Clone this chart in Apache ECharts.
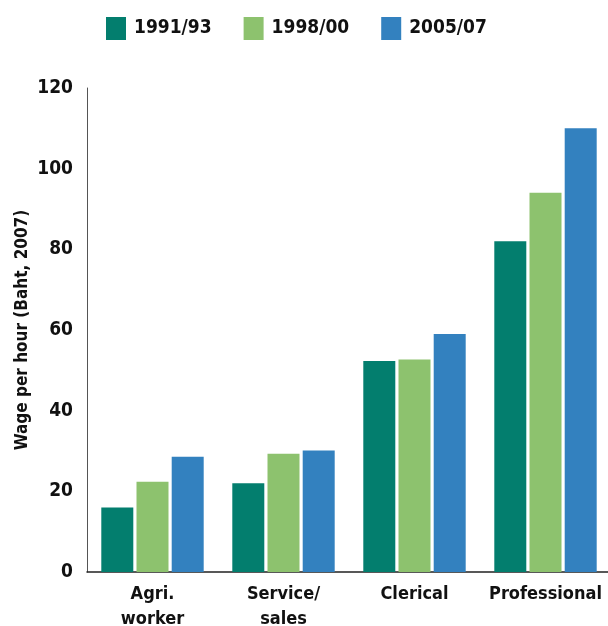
<!DOCTYPE html>
<html>
<head>
<meta charset="utf-8">
<script src="https://cdn.jsdelivr.net/npm/echarts@6/dist/echarts.min.js"></script>
<style>
  html, body { margin: 0; padding: 0; background: #fff; }
  #chart { width: 608px; height: 626px; }
</style>
</head>
<body>
<div id="chart"></div>
<script>
// occupations and wage values (Baht per hour, 2007 prices)
const categories = ["Agri.\nworker", "Service/\nsales", "Clerical", "Professional"];
const periods = ["1991/93", "1998/00", "2005/07"];
const wage1991 = [16.0, 22.0, 52.3, 82.0];
const wage1998 = [22.4, 29.3, 52.7, 94.0];
const wage2005 = [28.6, 30.1, 59.0, 110.0];
const colors = ["#037E6E", "#8DC26E", "#3381BF"];

const font = "'DejaVu Sans Condensed', sans-serif";

const myChart = echarts.init(document.getElementById("chart"));

const seriesData = [wage1991, wage1998, wage2005];
let series = [];
for (let i = 0; i < periods.length; i++) {
  series.push({
    name: periods[i],
    type: "bar",
    data: seriesData[i],
    barWidth: 32,
    barGap: "10%",
    itemStyle: { color: colors[i] },
  });
}

const option = {
  animation: false,
  textStyle: { fontFamily: font },
  legend: {
    top: 12,
    left: 101,
    itemWidth: 20,
    itemHeight: 23,
    itemGap: 32,
    icon: "rect",
    textStyle: { fontFamily: font, fontSize: 19, fontWeight: "bold", color: "#111", padding: [0, 0, 0, 3] },
    data: periods,
  },
  grid: {
    left: 87,
    top: 88,
    width: 524,
    bottom: 54,
    containLabel: false,
    outerBoundsMode: "none",
  },
  xAxis: {
    type: "category",
    data: categories,
    axisLine: { lineStyle: { color: "#222", width: 1.5 } },
    axisTick: { show: false },
    axisLabel: {
      interval: 0,
      fontFamily: font,
      fontSize: 18,
      fontWeight: "bold",
      color: "#111",
      margin: 10,
      lineHeight: 25,
    },
  },
  yAxis: {
    type: "value",
    min: 0,
    max: 120,
    interval: 20,
    name: "Wage per hour (Baht, 2007)",
    nameLocation: "middle",
    nameGap: 56,
    nameMoveOverlap: false,
    nameTextStyle: { fontFamily: font, fontSize: 17, fontWeight: "bold", color: "#111" },
    axisLine: { show: true, lineStyle: { color: "#555", width: 1 } },
    axisTick: { show: false },
    splitLine: { show: false },
    axisLabel: { fontFamily: font, fontSize: 19, fontWeight: "bold", color: "#111", margin: 14 },
  },
  series: series,
};

myChart.setOption(option);
</script>
</body>
</html>
